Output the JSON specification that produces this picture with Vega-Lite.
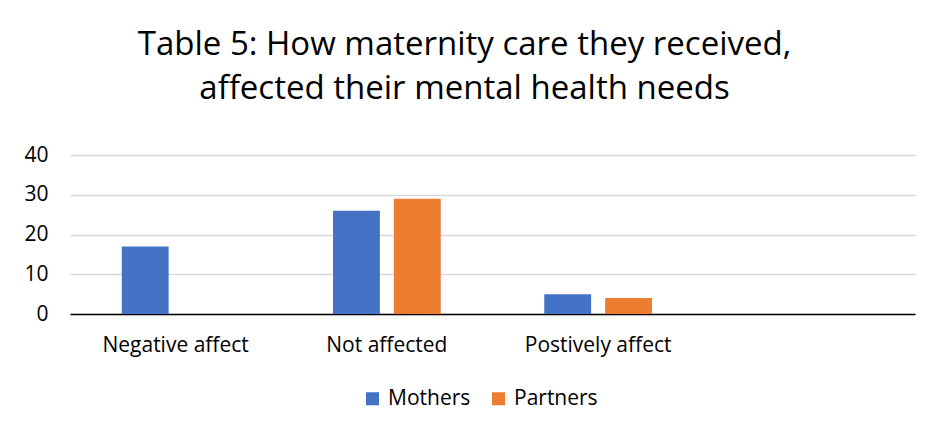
{
  "$schema": "https://vega.github.io/schema/vega-lite/v6.json",
  "width": 845,
  "height": 159,
  "autosize": {"type": "none"},
  "padding": {"left": 70, "top": 155, "right": 21, "bottom": 118},
  "background": "white",
  "title": {
    "text": ["Table 5: How maternity care they received,", "affected their mental health needs"],
    "font": "Open Sans",
    "fontSize": 33,
    "fontWeight": "normal",
    "color": "#000000",
    "lineHeight": 44,
    "anchor": "middle",
    "dx": -28,
    "offset": 38
  },
  "data": {
    "values": [
      {"category": "Negative affect", "group": "Mothers", "value": 17},
      {"category": "Negative affect", "group": "Partners", "value": 0},
      {"category": "Not affected", "group": "Mothers", "value": 26},
      {"category": "Not affected", "group": "Partners", "value": 29},
      {"category": "Postively affect", "group": "Mothers", "value": 5},
      {"category": "Postively affect", "group": "Partners", "value": 4}
    ]
  },
  "mark": {"type": "bar"},
  "encoding": {
    "x": {
      "field": "category",
      "type": "nominal",
      "sort": null,
      "scale": {"domain": ["Negative affect", "Not affected", "Postively affect", ""], "paddingInner": 0.49, "paddingOuter": 0.245},
      "axis": {
        "title": null,
        "labelAngle": 0,
        "labelFont": "Open Sans",
        "labelFontSize": 21,
        "labelColor": "#000000",
        "labelPadding": 20,
        "ticks": false,
        "tickSize": 0,
        "domainColor": "#000000",
        "domainWidth": 1.5,
        "grid": false
      }
    },
    "xOffset": {
      "field": "group",
      "type": "nominal",
      "scale": {"paddingInner": 0.23, "paddingOuter": 0}
    },
    "y": {
      "field": "value",
      "type": "quantitative",
      "scale": {"domain": [0, 40], "nice": false},
      "axis": {
        "title": null,
        "values": [0, 10, 20, 30, 40],
        "labelFont": "Open Sans",
        "labelFontSize": 21,
        "labelColor": "#000000",
        "labelPadding": 22,
        "ticks": false,
        "tickSize": 0,
        "domain": false,
        "grid": true,
        "gridColor": "#D9D9D9",
        "gridWidth": 1.5
      }
    },
    "color": {
      "field": "group",
      "type": "nominal",
      "scale": {"domain": ["Mothers", "Partners"], "range": ["#4472C4", "#ED7D31"]},
      "legend": {
        "title": null,
        "orient": "none",
        "legendX": 292,
        "legendY": 233,
        "direction": "horizontal",
        "symbolType": "square",
        "symbolSize": 169,
        "symbolStrokeWidth": 0,
        "labelFont": "Open Sans",
        "labelFontSize": 21,
        "labelColor": "#000000",
        "labelOffset": 5,
        "columnPadding": 17
      }
    }
  },
  "config": {
    "view": {"stroke": null}
  }
}
